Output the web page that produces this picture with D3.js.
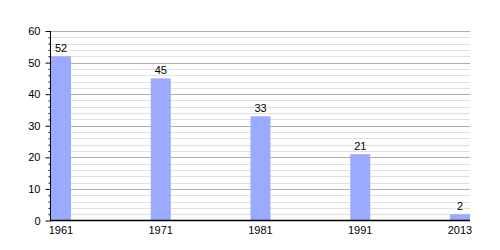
<!DOCTYPE html>
<html>
<head>
<meta charset="utf-8">
<script src="https://cdn.jsdelivr.net/npm/d3@7"></script>
<style>
  body { margin: 0; background: #fff; }
  text { font-family: "Liberation Sans", Arial, sans-serif; font-size: 11px; fill: #000; }
</style>
</head>
<body>
<svg></svg>
<script>
let years = ['1961', '1971', '1981', '1991', '2013']
let values = [52, 45, 33, 21, 2]
let yMax = 60

let w = 500
let h = 250
let plotLeft = 50
let plotRight = 470
let plotTop = 31
let plotBottom = 220.5
let barW = 20

let svg = d3.select('svg').attr('width', w).attr('height', h)

let xScale = d3.scalePoint()
               .domain(years)
               .range([plotLeft + 1, plotRight - barW])

let yScale = d3.scaleLinear()
               .domain([0, yMax])
               .range([plotBottom, plotTop])

// minor gridlines every 2, major every 10
let minor = d3.range(2, yMax + 1, 2).filter(d => d % 10 !== 0)
let major = d3.range(10, yMax + 1, 10)

svg.append('g').selectAll('line')
    .data(minor)
    .enter()
    .append('line')
    .attr('x1', plotLeft).attr('x2', plotRight)
    .attr('y1', d => Math.round(yScale(d)) + 0.5)
    .attr('y2', d => Math.round(yScale(d)) + 0.5)
    .attr('stroke', '#e0e0e0')

svg.append('g').selectAll('line')
    .data(major)
    .enter()
    .append('line')
    .attr('x1', plotLeft).attr('x2', plotRight)
    .attr('y1', d => Math.round(yScale(d)) + 0.5)
    .attr('y2', d => Math.round(yScale(d)) + 0.5)
    .attr('stroke', '#b0b0b0')

svg.selectAll('rect')
    .data(values)
    .enter()
    .append('rect')
    .attr('x', (d, i) => xScale(years[i]))
    .attr('y', d => yScale(d))
    .attr('width', barW)
    .attr('height', d => plotBottom - yScale(d))
    .attr('fill', '#99aaff')

svg.selectAll('.val')
    .data(values)
    .enter()
    .append('text')
    .attr('class', 'val')
    .attr('x', (d, i) => xScale(years[i]) + barW / 2)
    .attr('y', d => yScale(d) - 4)
    .attr('text-anchor', 'middle')
    .text(d => d)

// y axis: major ticks labelled, minor ticks short
let yAxis = d3.axisLeft(yScale).tickValues(d3.range(0, yMax + 1, 10)).tickSize(5).tickPadding(5)
let yAxisMinor = d3.axisLeft(yScale).tickValues(minor).tickSize(2).tickFormat('')

svg.append('g')
    .attr('transform', 'translate(' + (plotLeft + 0.5) + ',0)')
    .call(yAxisMinor)
    .call(g => g.select('.domain').remove())
    .call(g => g.selectAll('line').attr('stroke', '#000'))

svg.append('g')
    .attr('transform', 'translate(' + (plotLeft + 0.5) + ',0)')
    .call(yAxis)
    .call(g => g.select('.domain').attr('d', 'M0,' + plotTop + 'V' + plotBottom))
    .call(g => g.selectAll('text').style('font-family', '"Liberation Sans", Arial, sans-serif').style('font-size', '11px'))

// baseline
svg.append('line')
    .attr('x1', plotLeft).attr('x2', plotRight)
    .attr('y1', plotBottom).attr('y2', plotBottom)
    .attr('stroke', '#000')
    .attr('stroke-width', 1.5)

svg.selectAll('.cat')
    .data(years)
    .enter()
    .append('text')
    .attr('class', 'cat')
    .attr('x', d => xScale(d) + barW / 2)
    .attr('y', plotBottom + 13)
    .attr('text-anchor', 'middle')
    .text(d => d)
</script>
</body>
</html>
